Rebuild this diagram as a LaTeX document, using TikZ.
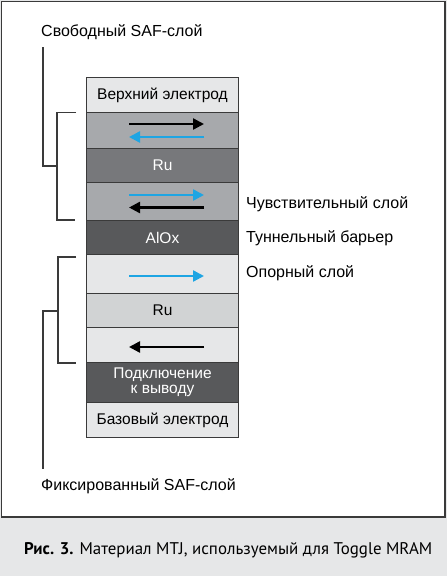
\documentclass[tikz,border=0pt]{standalone}
\usepackage{fontspec}
\setmainfont{Liberation Sans}
\newfontfamily\capfont{PT Sans}
\usetikzlibrary{arrows.meta}
\definecolor{lightg}{HTML}{E6E7E8}
\definecolor{midg}{HTML}{A7A9AC}
\definecolor{darkg}{HTML}{77787B}
\definecolor{darkerg}{HTML}{58595B}
\definecolor{rug}{HTML}{D1D3D4}
\definecolor{bluearr}{HTML}{1EA5E3}
\definecolor{framec}{HTML}{3A3A3A}
\begin{document}
\begin{tikzpicture}[x=1pt,y=-1pt,
  layer/.style={draw=framec,line width=1pt,minimum width=152pt,inner sep=0pt,anchor=north west,font=\fontsize{15.5}{16.5}\selectfont,align=center},
  lbl/.style={anchor=west,font=\fontsize{16}{18}\selectfont,inner sep=0pt},
  arr/.style={line width=2.4pt,-{Triangle[length=11pt,width=11pt]}},
  brk/.style={line width=1.1pt,framec}]
\useasboundingbox (0,0) rectangle (447,576);
\fill[lightg] (0,0) rectangle (447,576);
\fill[white] (1.5,1.5) rectangle (445,517);
\draw[framec,line width=1.4pt] (1.5,1.5) rectangle (445,517);
% layers
\node[layer,fill=lightg,minimum height=35pt] (top) at (86,77) {Верхний электрод};
\node[layer,fill=midg,minimum height=36pt] (fm1) at (86,112) {};
\node[layer,fill=darkg,minimum height=34pt,text=white] (ru1) at (86,148) {Ru};
\node[layer,fill=midg,minimum height=38pt] (fm2) at (86,182) {};
\node[layer,fill=darkerg,minimum height=34pt,text=white] (alox) at (86,220) {AlOx};
\node[layer,fill=lightg,minimum height=39pt] (ref) at (86,254) {};
\node[layer,fill=rug,minimum height=34pt] (ru2) at (86,293) {Ru};
\node[layer,fill=lightg,minimum height=35pt] (pin) at (86,327) {};
\node[layer,fill=darkerg,minimum height=40pt,text=white] (conn) at (86,362) {Подключение\\[-1.5pt]к выводу};
\node[layer,fill=lightg,minimum height=35pt] (base) at (86,402) {Базовый электрод};
% arrows
\draw[arr,black] (129,124) -- (204,124);
\draw[arr,bluearr] (204,137) -- (129,137);
\draw[arr,bluearr] (129,195) -- (204,195);
\draw[arr,black] (204,207.5) -- (129,207.5);
\draw[arr,bluearr] (129,276) -- (204,276);
\draw[arr,black] (204,347) -- (129,347);
% labels
\node[lbl] (free) at (41,32) {Свободный SAF-слой};
\node[lbl] (fixed) at (41,486) {Фиксированный SAF-слой};
\node[lbl] (sens) at (246,204) {Чувствительный слой};
\node[lbl] (tun) at (246,238) {Туннельный барьер};
\node[lbl] (opor) at (246,273) {Опорный слой};
% brackets
\coordinate (fa) at (43,47);
\coordinate (fb) at (43,166);
\coordinate (fc) at (57,166);
\draw[brk] (fa) -- (fb) -- (fc);
\coordinate (s1) at (76,112.5);
\coordinate (s2) at (57,112.5);
\coordinate (s3) at (57,220);
\coordinate (s4) at (75,220);
\draw[brk] (s1) -- (s2) -- (s3) -- (s4);
\coordinate (r1) at (76,257);
\coordinate (r2) at (58,257);
\coordinate (r3) at (58,363);
\coordinate (r4) at (76,363);
\draw[brk] (r1) -- (r2) -- (r3) -- (r4);
\coordinate (x1) at (58,311);
\coordinate (x2) at (43,311);
\coordinate (x3) at (43,469);
\draw[brk] (x1) -- (x2) -- (x3);
% caption
\node[anchor=west,inner sep=0pt,font=\capfont\fontsize{16.9}{19}\selectfont] (cap) at (24,550) {\textbf{Рис. 3.} Материал MTJ, используемый для Toggle MRAM};
\end{tikzpicture}
\end{document}
